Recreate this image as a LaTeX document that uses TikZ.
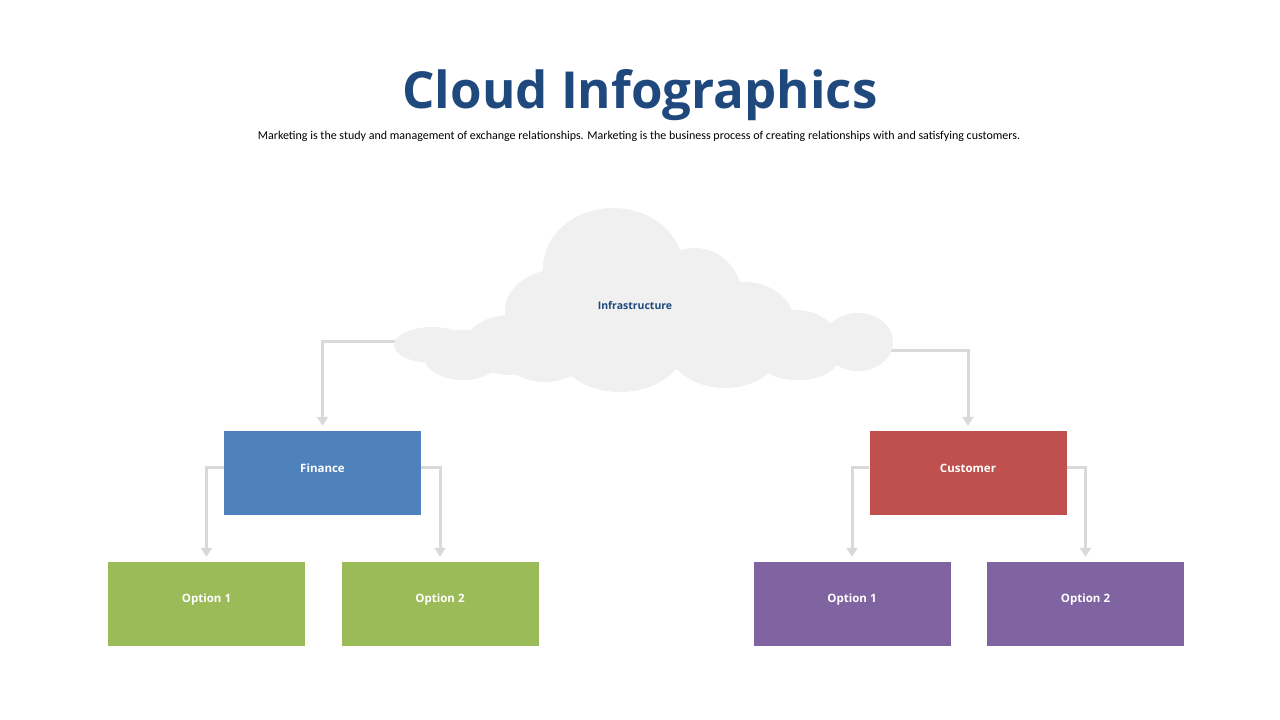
\documentclass[tikz,border=0pt]{standalone}
\usepackage{fontspec}
\setmainfont{Open Sans}
\newfontfamily\bodyfont{Carlito}
\usepackage{tikz}
\usetikzlibrary{
	arrows.meta
}
\usepackage{xcolor}
\definecolor{titleblue}{HTML}{1F497D}
\definecolor{financeblue}{HTML}{4F81BD}
\definecolor{customerred}{HTML}{C0504D}
\definecolor{optiongreen}{HTML}{9BBB59}
\definecolor{optionpurple}{HTML}{8064A2}
\definecolor{conngray}{HTML}{D9D9D9}
\definecolor{cloudgray}{HTML}{F0F0F0}

\begin{document}
\begin{tikzpicture}[
		x=1pt,
		y=-1pt,
		conn/.style={
			-{Triangle[width=11pt,length=9pt]},
			line width=3pt,
			draw=conngray,
			shorten >=5pt
		},
		box/.style={
			minimum width=197pt,
			minimum height=84pt,
			inner sep=0pt
		},
		lbl/.style={
			font=\bfseries\fontsize{11.5}{13}\selectfont,
			text=white
		}
		]
		
		\useasboundingbox (0,0) rectangle (1280,720);
		
		% Title
		\node[anchor=base, font=\bfseries\fontsize{51}{58}\selectfont, text=titleblue] (title) at (640,108) {Cloud Infographics};
		\node[anchor=base, font=\bodyfont\fontsize{12}{14}\selectfont] (subtitle) at (639,139) {Marketing is the study and management of exchange relationships. Marketing is the business process of creating relationships with and satisfying customers.};
		
		% Second level
		\node[box, fill=financeblue, label={[lbl,yshift=5pt]center:Finance}] (finance) at (322.5,473) {};
		\node[box, fill=customerred, label={[lbl,yshift=5pt]center:Customer}] (customer) at (968,473) {};
		
		% Options
		\node[box, fill=optiongreen, label={[lbl,yshift=4pt]center:Option 1}] (fin1) at (206.5,604) {};
		\node[box, fill=optiongreen, label={[lbl,yshift=4pt]center:Option 2}] (fin2) at (440,604) {};
		\node[box, fill=optionpurple, label={[lbl,yshift=4pt]center:Option 1}] (cus1) at (852,604) {};
		\node[box, fill=optionpurple, label={[lbl,yshift=4pt]center:Option 2}] (cus2) at (1085.5,604) {};
		
		% Connectors
		\coordinate (cloudL) at (430,341);
		\coordinate (cloudR) at (860,350);
		\draw[conn] (cloudL) -| (finance.north);
		\draw[conn] (cloudR) -| (customer.north);
		\draw[conn] ([yshift=6pt]finance.west) -| (fin1.north);
		\draw[conn] ([yshift=6pt]finance.east) -| (fin2.north);
		\draw[conn] ([yshift=6pt]customer.west) -| (cus1.north);
		\draw[conn] ([yshift=6pt]customer.east) -| (cus2.north);
		
		% Cloud
		\foreach \cx/\cy/\rx/\ry in {
			432/345/38/18, 463/355/40/25, 510/345/45/30, 565/310/60/42,
			613/268/70/60, 695/300/48/52, 745/325/50/43, 795/345/45/35,
			858/342/35/29, 620/345/65/47, 725/350/55/38, 545/350/45/32,
			800/355/40/25, 670/330/60/40}
		\fill[cloudgray] (\cx,\cy) ellipse [x radius=\rx pt, y radius=\ry pt];
		\node[font=\bfseries\fontsize{10.5}{12}\selectfont, text=titleblue] (infra) at (635,306) {Infrastructure};
		
	\end{tikzpicture}
\end{document}
